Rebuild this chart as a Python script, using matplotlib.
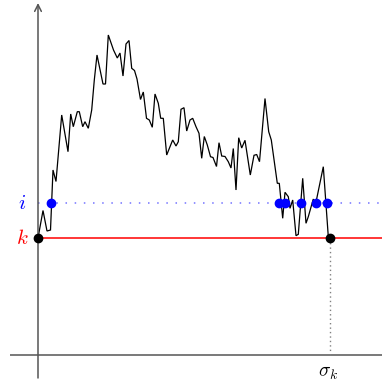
import numpy as np
import matplotlib
matplotlib.use('Agg')
import matplotlib.pyplot as plt

plt.rcParams['mathtext.fontset'] = 'cm'

# random walk path, started at level k and stopped when it comes back to k
walk_t = [0, 5, 9, 12.5, 15, 18, 23.7, 30, 32.7, 35.3, 39.3, 41.3, 44.7, 47, 50.3,
          53.7, 56.3, 59, 65, 67.5, 70.3, 75.5, 79.3, 82, 85, 88, 91, 93.7, 96.5,
          99, 102.5, 105.3, 108.5, 111.3, 114.3, 117, 120.3, 122.7, 125.3, 128.7,
          132, 134.7, 138, 140.3, 143, 146, 148.7, 152, 154.7, 158, 161, 163.7,
          166.3, 169.3, 172.5, 175, 178.5, 181, 183.7, 187, 190.3, 193, 195.3, 198,
          200.7, 203.7, 207, 212.3, 216, 218.7, 221.5, 227, 230.7, 233.3, 239.3,
          241.3, 244.7, 247, 250.3, 252, 254.7, 258, 260.3, 264.7, 268, 270.3,
          275.3, 277, 285.3, 290.3, 292]
walk_x = [117, 144.5, 124, 125, 185, 173.5, 240, 203.3, 241, 228.3, 243.3, 243.3,
          228.3, 233.3, 226.7, 245, 275, 300, 271, 271, 320, 305, 297, 302, 279,
          311, 314.5, 286.7, 284.5, 276, 255.5, 263, 236.7, 235, 227.7, 261, 251.7,
          236.7, 236.7, 200, 208.3, 215, 209, 213.3, 245.7, 247.3, 224, 235, 236.7,
          228.3, 221.7, 196.7, 218.5, 210, 198.3, 197.5, 188.5, 212.3, 199, 198.5,
          193.3, 187, 206.5, 165, 217.3, 207, 214.7, 180, 199.7, 200.5, 193.3,
          256.5, 223.3, 215, 171.7, 171.7, 136.7, 162.7, 158.3, 146.7, 155, 119.3,
          120.7, 176.7, 131.7, 138.3, 156, 148, 188.3, 118.3, 117]

k = 117
i = 152
sigma_k = 292
hits_i = [13, 241.3, 247, 262.7, 277.7, 288.7]

fig = plt.figure(figsize=(3.82, 3.83), dpi=100)
ax = fig.add_axes([0, 0, 1, 1])
ax.set_xlim(-38, 344)
ax.set_ylim(-28, 355)
ax.axis('off')

# axes
ax.plot([-28, 344], [0, 0], color='#555555', lw=1.1, solid_capstyle='butt')
ax.annotate('', xy=(0, 352), xytext=(0, -23),
            arrowprops=dict(arrowstyle='->', color='#555555', lw=1.1,
                            shrinkA=0, shrinkB=0, mutation_scale=12))

# levels k and i
ax.plot([0, 344], [k, k], color='red', lw=1.1)
ax.plot([0, 344], [i, i], color='blue', alpha=0.55, lw=1.1, linestyle=(0, (1, 5)))
ax.plot([sigma_k, sigma_k], [0, k], color='gray', lw=1, linestyle=(0, (1, 2.2)))

ax.plot(walk_t, walk_x, color='black', lw=0.9, solid_joinstyle='miter')

ax.plot(hits_i, [i] * len(hits_i), 'o', color='blue', ms=6, zorder=5)
ax.plot([0, sigma_k], [k, k], 'o', color='black', ms=6, zorder=5)

ax.text(-16, i, '$i$', color='blue', fontsize=15, ha='center', va='center')
ax.text(-16, k, '$k$', color='red', fontsize=15, ha='center', va='center')
ax.text(290, -17, r'$\sigma_k$', color='black', fontsize=14, ha='center', va='center')

fig.savefig('out.png', dpi=100)
